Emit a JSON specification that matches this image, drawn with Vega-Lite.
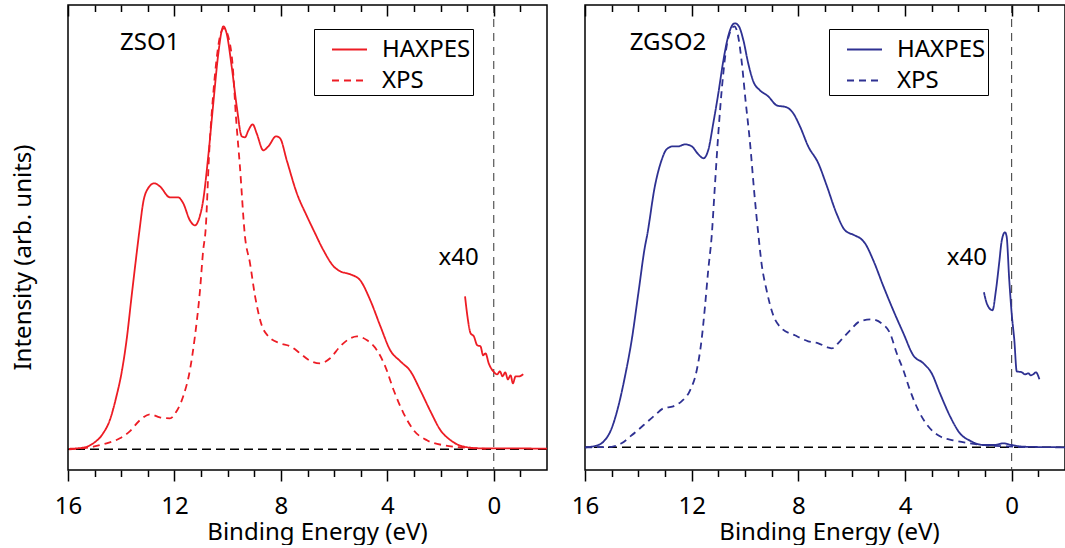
{
  "$schema": "https://vega.github.io/schema/vega-lite/v6.json",
  "padding": {"left": 10, "top": 3, "right": 0, "bottom": 0},
  "background": "white",
  "datasets": {
    "zso1": [
      {"E": 15.96, "I": 0.5, "series": "HAXPES", "seg": "main"},
      {"E": 15.37, "I": 2, "series": "HAXPES", "seg": "main"},
      {"E": 15.05, "I": 6, "series": "HAXPES", "seg": "main"},
      {"E": 14.68, "I": 16, "series": "HAXPES", "seg": "main"},
      {"E": 14.43, "I": 29, "series": "HAXPES", "seg": "main"},
      {"E": 14.18, "I": 53, "series": "HAXPES", "seg": "main"},
      {"E": 13.99, "I": 76, "series": "HAXPES", "seg": "main"},
      {"E": 13.8, "I": 109, "series": "HAXPES", "seg": "main"},
      {"E": 13.61, "I": 153, "series": "HAXPES", "seg": "main"},
      {"E": 13.42, "I": 196, "series": "HAXPES", "seg": "main"},
      {"E": 13.3, "I": 222, "series": "HAXPES", "seg": "main"},
      {"E": 13.18, "I": 246, "series": "HAXPES", "seg": "main"},
      {"E": 12.99, "I": 261, "series": "HAXPES", "seg": "main"},
      {"E": 12.76, "I": 266, "series": "HAXPES", "seg": "main"},
      {"E": 12.55, "I": 263, "series": "HAXPES", "seg": "main"},
      {"E": 12.17, "I": 252, "series": "HAXPES", "seg": "main"},
      {"E": 11.86, "I": 252, "series": "HAXPES", "seg": "main"},
      {"E": 11.67, "I": 246, "series": "HAXPES", "seg": "main"},
      {"E": 11.42, "I": 229, "series": "HAXPES", "seg": "main"},
      {"E": 11.23, "I": 224, "series": "HAXPES", "seg": "main"},
      {"E": 11.07, "I": 231, "series": "HAXPES", "seg": "main"},
      {"E": 10.92, "I": 249, "series": "HAXPES", "seg": "main"},
      {"E": 10.73, "I": 293, "series": "HAXPES", "seg": "main"},
      {"E": 10.54, "I": 346, "series": "HAXPES", "seg": "main"},
      {"E": 10.35, "I": 396, "series": "HAXPES", "seg": "main"},
      {"E": 10.22, "I": 419, "series": "HAXPES", "seg": "main"},
      {"E": 10.16, "I": 423, "series": "HAXPES", "seg": "main"},
      {"E": 10.04, "I": 416, "series": "HAXPES", "seg": "main"},
      {"E": 9.85, "I": 383, "series": "HAXPES", "seg": "main"},
      {"E": 9.66, "I": 343, "series": "HAXPES", "seg": "main"},
      {"E": 9.47, "I": 313, "series": "HAXPES", "seg": "main"},
      {"E": 9.35, "I": 312, "series": "HAXPES", "seg": "main"},
      {"E": 9.22, "I": 319, "series": "HAXPES", "seg": "main"},
      {"E": 9.06, "I": 325, "series": "HAXPES", "seg": "main"},
      {"E": 8.91, "I": 316, "series": "HAXPES", "seg": "main"},
      {"E": 8.66, "I": 299, "series": "HAXPES", "seg": "main"},
      {"E": 8.47, "I": 303, "series": "HAXPES", "seg": "main"},
      {"E": 8.18, "I": 313, "series": "HAXPES", "seg": "main"},
      {"E": 8.03, "I": 311, "series": "HAXPES", "seg": "main"},
      {"E": 7.78, "I": 289, "series": "HAXPES", "seg": "main"},
      {"E": 7.4, "I": 256, "series": "HAXPES", "seg": "main"},
      {"E": 7.02, "I": 233, "series": "HAXPES", "seg": "main"},
      {"E": 6.77, "I": 219, "series": "HAXPES", "seg": "main"},
      {"E": 6.4, "I": 199, "series": "HAXPES", "seg": "main"},
      {"E": 6.02, "I": 183, "series": "HAXPES", "seg": "main"},
      {"E": 5.77, "I": 178, "series": "HAXPES", "seg": "main"},
      {"E": 5.39, "I": 175, "series": "HAXPES", "seg": "main"},
      {"E": 5.02, "I": 169, "series": "HAXPES", "seg": "main"},
      {"E": 4.64, "I": 149, "series": "HAXPES", "seg": "main"},
      {"E": 4.26, "I": 123, "series": "HAXPES", "seg": "main"},
      {"E": 3.89, "I": 99, "series": "HAXPES", "seg": "main"},
      {"E": 3.51, "I": 88, "series": "HAXPES", "seg": "main"},
      {"E": 3.13, "I": 78, "series": "HAXPES", "seg": "main"},
      {"E": 2.76, "I": 59, "series": "HAXPES", "seg": "main"},
      {"E": 2.38, "I": 38, "series": "HAXPES", "seg": "main"},
      {"E": 2.0, "I": 19, "series": "HAXPES", "seg": "main"},
      {"E": 1.62, "I": 9, "series": "HAXPES", "seg": "main"},
      {"E": 1.12, "I": 2.6, "series": "HAXPES", "seg": "main"},
      {"E": 0.5, "I": 1, "series": "HAXPES", "seg": "main"},
      {"E": 0.0, "I": 1, "series": "HAXPES", "seg": "main"},
      {"E": -2.0, "I": 0.6, "series": "HAXPES", "seg": "main"},
      {"E": 1.08, "I": 153, "series": "HAXPES", "seg": "x40"},
      {"E": 0.99, "I": 133, "series": "HAXPES", "seg": "x40"},
      {"E": 0.87, "I": 116, "series": "HAXPES", "seg": "x40"},
      {"E": 0.75, "I": 113, "series": "HAXPES", "seg": "x40"},
      {"E": 0.62, "I": 104, "series": "HAXPES", "seg": "x40"},
      {"E": 0.5, "I": 103, "series": "HAXPES", "seg": "x40"},
      {"E": 0.4, "I": 94, "series": "HAXPES", "seg": "x40"},
      {"E": 0.31, "I": 96, "series": "HAXPES", "seg": "x40"},
      {"E": 0.19, "I": 86, "series": "HAXPES", "seg": "x40"},
      {"E": 0.02, "I": 78, "series": "HAXPES", "seg": "x40"},
      {"E": -0.13, "I": 75, "series": "HAXPES", "seg": "x40"},
      {"E": -0.23, "I": 78, "series": "HAXPES", "seg": "x40"},
      {"E": -0.33, "I": 73, "series": "HAXPES", "seg": "x40"},
      {"E": -0.43, "I": 77, "series": "HAXPES", "seg": "x40"},
      {"E": -0.53, "I": 70, "series": "HAXPES", "seg": "x40"},
      {"E": -0.63, "I": 74, "series": "HAXPES", "seg": "x40"},
      {"E": -0.72, "I": 66, "series": "HAXPES", "seg": "x40"},
      {"E": -0.82, "I": 73, "series": "HAXPES", "seg": "x40"},
      {"E": -0.94, "I": 73, "series": "HAXPES", "seg": "x40"},
      {"E": -1.11, "I": 75, "series": "HAXPES", "seg": "x40"},
      {"E": 15.96, "I": 0, "series": "XPS", "seg": "xps"},
      {"E": 15.05, "I": 2.6, "series": "XPS", "seg": "xps"},
      {"E": 14.55, "I": 6, "series": "XPS", "seg": "xps"},
      {"E": 14.05, "I": 11, "series": "XPS", "seg": "xps"},
      {"E": 13.68, "I": 18, "series": "XPS", "seg": "xps"},
      {"E": 13.3, "I": 29, "series": "XPS", "seg": "xps"},
      {"E": 12.92, "I": 35, "series": "XPS", "seg": "xps"},
      {"E": 12.55, "I": 32, "series": "XPS", "seg": "xps"},
      {"E": 12.17, "I": 31, "series": "XPS", "seg": "xps"},
      {"E": 11.92, "I": 38, "series": "XPS", "seg": "xps"},
      {"E": 11.67, "I": 53, "series": "XPS", "seg": "xps"},
      {"E": 11.42, "I": 79, "series": "XPS", "seg": "xps"},
      {"E": 11.23, "I": 113, "series": "XPS", "seg": "xps"},
      {"E": 11.04, "I": 159, "series": "XPS", "seg": "xps"},
      {"E": 10.92, "I": 199, "series": "XPS", "seg": "xps"},
      {"E": 10.83, "I": 219, "series": "XPS", "seg": "xps"},
      {"E": 10.69, "I": 299, "series": "XPS", "seg": "xps"},
      {"E": 10.54, "I": 356, "series": "XPS", "seg": "xps"},
      {"E": 10.39, "I": 396, "series": "XPS", "seg": "xps"},
      {"E": 10.26, "I": 416, "series": "XPS", "seg": "xps"},
      {"E": 10.14, "I": 421, "series": "XPS", "seg": "xps"},
      {"E": 9.98, "I": 413, "series": "XPS", "seg": "xps"},
      {"E": 9.81, "I": 383, "series": "XPS", "seg": "xps"},
      {"E": 9.69, "I": 333, "series": "XPS", "seg": "xps"},
      {"E": 9.54, "I": 283, "series": "XPS", "seg": "xps"},
      {"E": 9.35, "I": 213, "series": "XPS", "seg": "xps"},
      {"E": 9.16, "I": 186, "series": "XPS", "seg": "xps"},
      {"E": 8.97, "I": 153, "series": "XPS", "seg": "xps"},
      {"E": 8.72, "I": 124, "series": "XPS", "seg": "xps"},
      {"E": 8.47, "I": 113, "series": "XPS", "seg": "xps"},
      {"E": 8.03, "I": 106, "series": "XPS", "seg": "xps"},
      {"E": 7.65, "I": 103, "series": "XPS", "seg": "xps"},
      {"E": 7.28, "I": 96, "series": "XPS", "seg": "xps"},
      {"E": 6.93, "I": 89, "series": "XPS", "seg": "xps"},
      {"E": 6.52, "I": 86, "series": "XPS", "seg": "xps"},
      {"E": 6.15, "I": 91, "series": "XPS", "seg": "xps"},
      {"E": 5.77, "I": 103, "series": "XPS", "seg": "xps"},
      {"E": 5.39, "I": 111, "series": "XPS", "seg": "xps"},
      {"E": 5.14, "I": 113, "series": "XPS", "seg": "xps"},
      {"E": 4.76, "I": 109, "series": "XPS", "seg": "xps"},
      {"E": 4.39, "I": 99, "series": "XPS", "seg": "xps"},
      {"E": 4.08, "I": 83, "series": "XPS", "seg": "xps"},
      {"E": 3.76, "I": 59, "series": "XPS", "seg": "xps"},
      {"E": 3.39, "I": 36, "series": "XPS", "seg": "xps"},
      {"E": 3.01, "I": 19, "series": "XPS", "seg": "xps"},
      {"E": 2.51, "I": 9, "series": "XPS", "seg": "xps"},
      {"E": 1.88, "I": 4, "series": "XPS", "seg": "xps"},
      {"E": 1.25, "I": 2, "series": "XPS", "seg": "xps"},
      {"E": 0.75, "I": 1, "series": "XPS", "seg": "xps"},
      {"E": 0.3, "I": 0.5, "series": "XPS", "seg": "xps"}
    ],
    "zgso2": [
      {"E": 15.98, "I": 0, "series": "HAXPES", "seg": "main"},
      {"E": 15.63, "I": 1.3, "series": "HAXPES", "seg": "main"},
      {"E": 15.31, "I": 5.6, "series": "HAXPES", "seg": "main"},
      {"E": 15.0, "I": 19, "series": "HAXPES", "seg": "main"},
      {"E": 14.75, "I": 41, "series": "HAXPES", "seg": "main"},
      {"E": 14.5, "I": 71, "series": "HAXPES", "seg": "main"},
      {"E": 14.25, "I": 107, "series": "HAXPES", "seg": "main"},
      {"E": 14.0, "I": 154, "series": "HAXPES", "seg": "main"},
      {"E": 13.75, "I": 201, "series": "HAXPES", "seg": "main"},
      {"E": 13.67, "I": 212, "series": "HAXPES", "seg": "main"},
      {"E": 13.38, "I": 261, "series": "HAXPES", "seg": "main"},
      {"E": 13.13, "I": 287, "series": "HAXPES", "seg": "main"},
      {"E": 12.94, "I": 298, "series": "HAXPES", "seg": "main"},
      {"E": 12.69, "I": 301, "series": "HAXPES", "seg": "main"},
      {"E": 12.5, "I": 301, "series": "HAXPES", "seg": "main"},
      {"E": 12.25, "I": 303, "series": "HAXPES", "seg": "main"},
      {"E": 12.0, "I": 301, "series": "HAXPES", "seg": "main"},
      {"E": 11.75, "I": 293, "series": "HAXPES", "seg": "main"},
      {"E": 11.56, "I": 289, "series": "HAXPES", "seg": "main"},
      {"E": 11.38, "I": 297, "series": "HAXPES", "seg": "main"},
      {"E": 11.19, "I": 324, "series": "HAXPES", "seg": "main"},
      {"E": 11.0, "I": 354, "series": "HAXPES", "seg": "main"},
      {"E": 10.81, "I": 387, "series": "HAXPES", "seg": "main"},
      {"E": 10.63, "I": 411, "series": "HAXPES", "seg": "main"},
      {"E": 10.48, "I": 422, "series": "HAXPES", "seg": "main"},
      {"E": 10.38, "I": 424, "series": "HAXPES", "seg": "main"},
      {"E": 10.23, "I": 421, "series": "HAXPES", "seg": "main"},
      {"E": 10.06, "I": 407, "series": "HAXPES", "seg": "main"},
      {"E": 9.88, "I": 384, "series": "HAXPES", "seg": "main"},
      {"E": 9.69, "I": 366, "series": "HAXPES", "seg": "main"},
      {"E": 9.44, "I": 357, "series": "HAXPES", "seg": "main"},
      {"E": 9.13, "I": 351, "series": "HAXPES", "seg": "main"},
      {"E": 8.81, "I": 342, "series": "HAXPES", "seg": "main"},
      {"E": 8.44, "I": 340, "series": "HAXPES", "seg": "main"},
      {"E": 8.19, "I": 334, "series": "HAXPES", "seg": "main"},
      {"E": 7.94, "I": 321, "series": "HAXPES", "seg": "main"},
      {"E": 7.63, "I": 301, "series": "HAXPES", "seg": "main"},
      {"E": 7.25, "I": 284, "series": "HAXPES", "seg": "main"},
      {"E": 6.94, "I": 262, "series": "HAXPES", "seg": "main"},
      {"E": 6.57, "I": 234, "series": "HAXPES", "seg": "main"},
      {"E": 6.25, "I": 217, "series": "HAXPES", "seg": "main"},
      {"E": 5.89, "I": 212, "series": "HAXPES", "seg": "main"},
      {"E": 5.63, "I": 208, "series": "HAXPES", "seg": "main"},
      {"E": 5.5, "I": 204, "series": "HAXPES", "seg": "main"},
      {"E": 5.19, "I": 187, "series": "HAXPES", "seg": "main"},
      {"E": 4.81, "I": 161, "series": "HAXPES", "seg": "main"},
      {"E": 4.44, "I": 137, "series": "HAXPES", "seg": "main"},
      {"E": 4.06, "I": 114, "series": "HAXPES", "seg": "main"},
      {"E": 3.69, "I": 92, "series": "HAXPES", "seg": "main"},
      {"E": 3.31, "I": 84, "series": "HAXPES", "seg": "main"},
      {"E": 3.0, "I": 74, "series": "HAXPES", "seg": "main"},
      {"E": 2.69, "I": 54, "series": "HAXPES", "seg": "main"},
      {"E": 2.31, "I": 31, "series": "HAXPES", "seg": "main"},
      {"E": 1.94, "I": 14, "series": "HAXPES", "seg": "main"},
      {"E": 1.56, "I": 6.6, "series": "HAXPES", "seg": "main"},
      {"E": 1.06, "I": 2.3, "series": "HAXPES", "seg": "main"},
      {"E": 0.63, "I": 2.3, "series": "HAXPES", "seg": "main"},
      {"E": 0.31, "I": 4, "series": "HAXPES", "seg": "main"},
      {"E": 0.0, "I": 2.3, "series": "HAXPES", "seg": "main"},
      {"E": -0.44, "I": 0.6, "series": "HAXPES", "seg": "main"},
      {"E": -2.0, "I": 0, "series": "HAXPES", "seg": "main"},
      {"E": 1.04, "I": 155, "series": "HAXPES", "seg": "x40"},
      {"E": 0.92, "I": 143, "series": "HAXPES", "seg": "x40"},
      {"E": 0.72, "I": 137, "series": "HAXPES", "seg": "x40"},
      {"E": 0.59, "I": 157, "series": "HAXPES", "seg": "x40"},
      {"E": 0.47, "I": 184, "series": "HAXPES", "seg": "x40"},
      {"E": 0.37, "I": 207, "series": "HAXPES", "seg": "x40"},
      {"E": 0.25, "I": 215, "series": "HAXPES", "seg": "x40"},
      {"E": 0.19, "I": 211, "series": "HAXPES", "seg": "x40"},
      {"E": 0.09, "I": 167, "series": "HAXPES", "seg": "x40"},
      {"E": 0.0, "I": 134, "series": "HAXPES", "seg": "x40"},
      {"E": -0.1, "I": 107, "series": "HAXPES", "seg": "x40"},
      {"E": -0.19, "I": 76, "series": "HAXPES", "seg": "x40"},
      {"E": -0.38, "I": 75, "series": "HAXPES", "seg": "x40"},
      {"E": -0.5, "I": 73, "series": "HAXPES", "seg": "x40"},
      {"E": -0.63, "I": 74, "series": "HAXPES", "seg": "x40"},
      {"E": -0.71, "I": 72, "series": "HAXPES", "seg": "x40"},
      {"E": -0.81, "I": 73, "series": "HAXPES", "seg": "x40"},
      {"E": -0.91, "I": 75, "series": "HAXPES", "seg": "x40"},
      {"E": -1.04, "I": 68, "series": "HAXPES", "seg": "x40"},
      {"E": 16.0, "I": 0, "series": "XPS", "seg": "xps"},
      {"E": 15.0, "I": 0.5, "series": "XPS", "seg": "xps"},
      {"E": 14.63, "I": 4, "series": "XPS", "seg": "xps"},
      {"E": 14.25, "I": 12, "series": "XPS", "seg": "xps"},
      {"E": 13.81, "I": 22, "series": "XPS", "seg": "xps"},
      {"E": 13.38, "I": 32, "series": "XPS", "seg": "xps"},
      {"E": 13.06, "I": 39, "series": "XPS", "seg": "xps"},
      {"E": 12.69, "I": 41, "series": "XPS", "seg": "xps"},
      {"E": 12.38, "I": 46, "series": "XPS", "seg": "xps"},
      {"E": 12.06, "I": 57, "series": "XPS", "seg": "xps"},
      {"E": 11.81, "I": 77, "series": "XPS", "seg": "xps"},
      {"E": 11.63, "I": 107, "series": "XPS", "seg": "xps"},
      {"E": 11.5, "I": 141, "series": "XPS", "seg": "xps"},
      {"E": 11.38, "I": 177, "series": "XPS", "seg": "xps"},
      {"E": 11.25, "I": 211, "series": "XPS", "seg": "xps"},
      {"E": 11.13, "I": 261, "series": "XPS", "seg": "xps"},
      {"E": 11.0, "I": 314, "series": "XPS", "seg": "xps"},
      {"E": 10.85, "I": 364, "series": "XPS", "seg": "xps"},
      {"E": 10.69, "I": 401, "series": "XPS", "seg": "xps"},
      {"E": 10.53, "I": 417, "series": "XPS", "seg": "xps"},
      {"E": 10.4, "I": 421, "series": "XPS", "seg": "xps"},
      {"E": 10.28, "I": 414, "series": "XPS", "seg": "xps"},
      {"E": 10.13, "I": 387, "series": "XPS", "seg": "xps"},
      {"E": 9.98, "I": 347, "series": "XPS", "seg": "xps"},
      {"E": 9.81, "I": 304, "series": "XPS", "seg": "xps"},
      {"E": 9.65, "I": 254, "series": "XPS", "seg": "xps"},
      {"E": 9.5, "I": 213, "series": "XPS", "seg": "xps"},
      {"E": 9.38, "I": 184, "series": "XPS", "seg": "xps"},
      {"E": 9.19, "I": 157, "series": "XPS", "seg": "xps"},
      {"E": 8.94, "I": 132, "series": "XPS", "seg": "xps"},
      {"E": 8.63, "I": 119, "series": "XPS", "seg": "xps"},
      {"E": 8.13, "I": 112, "series": "XPS", "seg": "xps"},
      {"E": 7.63, "I": 106, "series": "XPS", "seg": "xps"},
      {"E": 7.25, "I": 104, "series": "XPS", "seg": "xps"},
      {"E": 6.9, "I": 100, "series": "XPS", "seg": "xps"},
      {"E": 6.75, "I": 99, "series": "XPS", "seg": "xps"},
      {"E": 6.44, "I": 106, "series": "XPS", "seg": "xps"},
      {"E": 6.06, "I": 117, "series": "XPS", "seg": "xps"},
      {"E": 5.69, "I": 126, "series": "XPS", "seg": "xps"},
      {"E": 5.25, "I": 128, "series": "XPS", "seg": "xps"},
      {"E": 4.88, "I": 124, "series": "XPS", "seg": "xps"},
      {"E": 4.56, "I": 114, "series": "XPS", "seg": "xps"},
      {"E": 4.31, "I": 94, "series": "XPS", "seg": "xps"},
      {"E": 4.06, "I": 77, "series": "XPS", "seg": "xps"},
      {"E": 3.81, "I": 57, "series": "XPS", "seg": "xps"},
      {"E": 3.5, "I": 37, "series": "XPS", "seg": "xps"},
      {"E": 3.13, "I": 21, "series": "XPS", "seg": "xps"},
      {"E": 2.69, "I": 11, "series": "XPS", "seg": "xps"},
      {"E": 2.19, "I": 7, "series": "XPS", "seg": "xps"},
      {"E": 1.56, "I": 4, "series": "XPS", "seg": "xps"},
      {"E": 0.94, "I": 2, "series": "XPS", "seg": "xps"},
      {"E": 0.3, "I": 1, "series": "XPS", "seg": "xps"},
      {"E": -0.5, "I": 0.3, "series": "XPS", "seg": "xps"}
    ],
    "labels1": [
      {"E": 12.93, "I": 406, "text": "ZSO1"},
      {"E": 1.32, "I": 191.6, "text": "x40"}
    ],
    "labels2": [
      {"E": 12.89, "I": 404, "text": "ZGSO2"},
      {"E": 1.68, "I": 189.6, "text": "x40"}
    ],
    "refs": [
      {"E": 0, "Emin": -2, "Emax": 16, "I": 0}
    ]
  },
  "hconcat": [
    {
      "width": 479,
      "height": 465,
      "layer": [
        {
          "data": {"name": "refs"},
          "mark": {"type": "rule", "color": "#333333", "strokeWidth": 1, "strokeDash": [8, 6]},
          "encoding": {
            "x": {"field": "E", "type": "quantitative",
                  "scale": {"domain": [-2, 16], "reverse": true, "nice": false, "zero": false},
                  "axis": {"orient": "bottom", "values": [15, 14, 13, 11, 10, 9, 7, 6, 5, 3, 2, 1, -1], "tickSize": 6.5, "labels": false, "title": null}}
          }
        },
        {
          "data": {"name": "refs"},
          "mark": {"type": "rule", "color": "black", "strokeWidth": 1.5, "strokeDash": [9, 5]},
          "encoding": {
            "x": {"field": "Emin", "type": "quantitative",
                  "scale": {"domain": [-2, 16], "reverse": true, "nice": false, "zero": false},
                  "axis": {"orient": "top", "values": [15, 14, 13, 11, 10, 9, 7, 6, 5, 3, 2, 1, -1], "tickSize": -6.5, "labels": false, "title": null}},
            "x2": {"field": "Emax"},
            "y": {"field": "I", "type": "quantitative",
                  "scale": {"domain": [-20.7, 444.3], "nice": false, "zero": false}, "axis": null}
          }
        },
        {
          "data": {"name": "zso1"},
          "mark": {"type": "line", "color": "#ed1c24", "strokeWidth": 1.8, "interpolate": "monotone"},
          "encoding": {
            "x": {"field": "E", "type": "quantitative",
                  "scale": {"domain": [-2, 16], "reverse": true, "nice": false, "zero": false},
                  "axis": {"orient": "bottom", "values": [16, 12, 8, 4, 0], "format": "d", "tickSize": 11, "labelPadding": 13, "labelFlush": false, "labelOverlap": false, "title": "Binding Energy (eV)", "titlePadding": 2, "titleX": 249}},
            "y": {"field": "I", "type": "quantitative",
                  "scale": {"domain": [-20.7, 444.3], "nice": false, "zero": false},
                  "axis": {"title": "Intensity (arb. units)", "ticks": false, "labels": false, "domain": false, "grid": false,
                           "titleX": -38, "titleY": 252, "titleAngle": 270, "titleAlign": "center", "titleBaseline": "alphabetic"}},
            "detail": {"field": "seg"},
            "strokeDash": {"field": "series", "type": "nominal",
                           "scale": {"domain": ["HAXPES", "XPS"], "range": [[1, 0], [7, 5]]},
                           "legend": {"title": null, "orient": "none", "legendX": 246, "legendY": 24,
                                      "symbolStrokeColor": "#ed1c24"}}
          }
        },
        {
          "data": {"name": "labels1"},
          "mark": {"type": "text", "font": "Noto Sans", "fontSize": 24, "color": "black", "align": "center", "baseline": "middle"},
          "encoding": {
            "x": {"field": "E", "type": "quantitative",
                  "scale": {"domain": [-2, 16], "reverse": true, "nice": false, "zero": false},
                  "axis": {"orient": "top", "values": [16, 12, 8, 4, 0], "tickSize": -11, "labels": false, "title": null}},
            "y": {"field": "I", "type": "quantitative",
                  "scale": {"domain": [-20.7, 444.3], "nice": false, "zero": false}, "axis": null},
            "text": {"field": "text"}
          }
        }
      ],
      "resolve": {"axis": {"x": "independent", "y": "independent"}}
    },
    {
      "width": 480,
      "height": 465,
      "layer": [
        {
          "data": {"name": "refs"},
          "mark": {"type": "rule", "color": "#333333", "strokeWidth": 1, "strokeDash": [8, 6]},
          "encoding": {
            "x": {"field": "E", "type": "quantitative",
                  "scale": {"domain": [-2, 16], "reverse": true, "nice": false, "zero": false},
                  "axis": {"orient": "bottom", "values": [15, 14, 13, 11, 10, 9, 7, 6, 5, 3, 2, 1, -1], "tickSize": 6.5, "labels": false, "title": null}}
          }
        },
        {
          "data": {"name": "refs"},
          "mark": {"type": "rule", "color": "black", "strokeWidth": 1.5, "strokeDash": [9, 5]},
          "encoding": {
            "x": {"field": "Emin", "type": "quantitative",
                  "scale": {"domain": [-2, 16], "reverse": true, "nice": false, "zero": false},
                  "axis": {"orient": "top", "values": [15, 14, 13, 11, 10, 9, 7, 6, 5, 3, 2, 1, -1], "tickSize": -6.5, "labels": false, "title": null}},
            "x2": {"field": "Emax"},
            "y": {"field": "I", "type": "quantitative",
                  "scale": {"domain": [-22.7, 442.3], "nice": false, "zero": false}, "axis": null}
          }
        },
        {
          "data": {"name": "zgso2"},
          "mark": {"type": "line", "color": "#2e3192", "strokeWidth": 1.8, "interpolate": "monotone"},
          "encoding": {
            "x": {"field": "E", "type": "quantitative",
                  "scale": {"domain": [-2, 16], "reverse": true, "nice": false, "zero": false},
                  "axis": {"orient": "bottom", "values": [16, 12, 8, 4, 0], "format": "d", "tickSize": 11, "labelPadding": 13, "labelFlush": false, "labelOverlap": false, "title": "Binding Energy (eV)", "titlePadding": 2, "titleX": 244}},
            "y": {"field": "I", "type": "quantitative",
                  "scale": {"domain": [-22.7, 442.3], "nice": false, "zero": false}, "axis": null},
            "detail": {"field": "seg"},
            "strokeDash": {"field": "series", "type": "nominal",
                           "scale": {"domain": ["HAXPES", "XPS"], "range": [[1, 0], [7, 5]]},
                           "legend": {"title": null, "orient": "none", "legendX": 244, "legendY": 24,
                                      "symbolStrokeColor": "#2e3192"}}
          }
        },
        {
          "data": {"name": "labels2"},
          "mark": {"type": "text", "font": "Noto Sans", "fontSize": 24, "color": "black", "align": "center", "baseline": "middle"},
          "encoding": {
            "x": {"field": "E", "type": "quantitative",
                  "scale": {"domain": [-2, 16], "reverse": true, "nice": false, "zero": false},
                  "axis": {"orient": "top", "values": [16, 12, 8, 4, 0], "tickSize": -11, "labels": false, "title": null}},
            "y": {"field": "I", "type": "quantitative",
                  "scale": {"domain": [-22.7, 442.3], "nice": false, "zero": false}, "axis": null},
            "text": {"field": "text"}
          }
        }
      ],
      "resolve": {"axis": {"x": "independent", "y": "independent"}}
    }
  ],
  "spacing": 38,
  "bounds": "flush",
  "resolve": {"scale": {"strokeDash": "independent"}, "legend": {"strokeDash": "independent"}},
  "config": {
    "font": "Noto Sans",
    "view": {"stroke": "black", "strokeWidth": 1.5},
    "axis": {
      "labelFont": "Noto Sans", "labelFontSize": 24, "labelColor": "black",
      "titleFont": "Noto Sans", "titleFontSize": 24, "titleFontWeight": "normal", "titleColor": "black",
      "tickColor": "black", "tickWidth": 1.5, "grid": false, "domain": false
    },
    "legend": {
      "labelFont": "Noto Sans", "labelFontSize": 24, "labelColor": "black",
      "strokeColor": "black", "fillColor": "white", "padding": 2,
      "symbolSize": 1225, "symbolStrokeWidth": 1.8, "symbolOffset": 15, "labelOffset": 14,
      "rowPadding": 0, "symbolType": "stroke"
    }
  }
}
